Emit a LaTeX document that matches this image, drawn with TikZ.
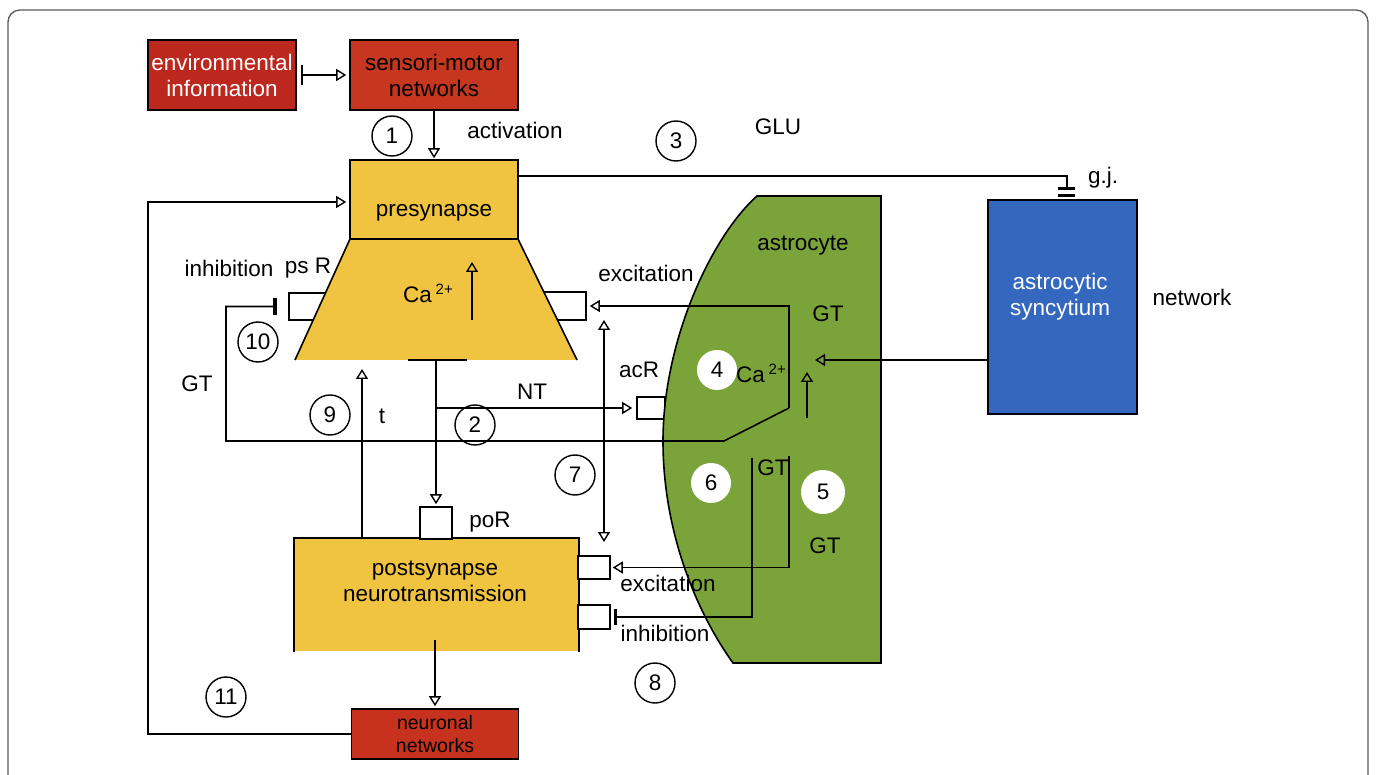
\documentclass[tikz,border=0pt]{standalone}
\usepackage{fontspec}
\setmainfont{Liberation Sans}
\usetikzlibrary{arrows.meta}
\definecolor{envred}{RGB}{188,40,30}
\definecolor{smred}{RGB}{198,54,32}
\definecolor{neured}{RGB}{198,50,30}
\definecolor{yel}{RGB}{240,195,64}
\definecolor{astro}{RGB}{122,164,58}
\definecolor{synblue}{RGB}{52,104,190}
\tikzset{
  oa/.style={-{Triangle[open,length=10pt,width=12pt,line width=1.4pt]}},
  ob/.style={{Triangle[open,length=10pt,width=12pt,line width=1.4pt]}-{Triangle[open,length=10pt,width=12pt,line width=1.4pt]}},
  inh/.style={-{Bar[width=17pt,line width=4pt]}},
  txt/.style={font=\fontsize{22.5}{26}\selectfont, inner sep=0pt},
  num/.style={circle, draw, line width=1.4pt, minimum size=40pt, inner sep=0pt, font=\fontsize{22.5}{26}\selectfont},
  wnum/.style={circle, fill=white, minimum size=40pt, inner sep=0pt, font=\fontsize{22.5}{26}\selectfont},
  rbox/.style={draw, line width=1.6pt, fill=white, inner sep=0pt},
  cbox/.style={draw, line width=1.6pt, inner sep=0pt, align=center, font=\fontsize{22.5}{26}\selectfont},
  frame/.style={draw=black!65, line width=1.3pt, rounded corners=12pt}
}
\newcommand{\caion}{Ca\,{\fontsize{15}{15}\selectfont\raisebox{8pt}{2+}}}
\begin{document}
\begin{tikzpicture}[x=1pt,y=-1pt,line width=1.6pt]
\useasboundingbox (0,0) rectangle (1376,775);
\draw[frame] (8,775) -- (8,10) -- (1368,10) -- (1368,775);

% top boxes
\node[cbox, fill=envred, text=white, minimum width=148pt, minimum height=70pt] (env) at (222,75) {environmental\\information};
\node[cbox, fill=smred, minimum width=168pt, minimum height=70pt] (smn) at (434,75) {sensori-motor\\networks};
\draw[{Bar[width=20pt,line width=2.5pt]}-{Triangle[open,length=10pt,width=12pt,line width=1.4pt]}, shorten <=4pt, shorten >=3pt] (env) -- (smn);

% receptor boxes of presynapse
\node[rbox, minimum width=41pt, minimum height=27pt] (psR) at (309.5,306.5) {};
\node[rbox, minimum width=46pt, minimum height=28pt] (exR) at (563,306) {};

% trapezoid
\coordinate (tl) at (350,239);
\coordinate (tr) at (518,239);
\coordinate (br) at (577,360);
\coordinate (bl) at (295,360);
\fill[yel] (tl) -- (tr) -- (br) -- (bl) -- cycle;
\draw (tl) -- (bl);
\draw (tr) -- (br);
\draw (408,360) -- (467,360);

% presynapse box
\node[draw, fill=yel, minimum width=168pt, minimum height=79pt, inner sep=0pt] (pre) at (434,199.5) {};
\node[txt] (preL) at (434,213) {presynapse};
\draw[oa, shorten >=1pt] (smn) -- (pre);

% Ca arrow in presynapse
\coordinate (caA) at (472,320);
\coordinate (caB) at (472,262);
\draw[oa] (caA) -- (caB);
\node[txt] (caPre) at (428,293) {\caion};

% acR box then astrocyte
\node[rbox, minimum width=28pt, minimum height=22pt] (acR) at (651,408) {};
\draw[fill=astro] (757,196) .. controls (712,236) and (663,340) .. (663,441)
  .. controls (663,530) and (695,610) .. (733,663) -- (881,663) -- (881,196) -- cycle;

% astrocytic syncytium
\node[draw, fill=synblue, minimum width=149pt, minimum height=214pt, inner sep=0pt] (syn) at (1062.5,307) {};
\node[txt, text=white, align=center] (synL) at (1060,297) {astrocytic\\syncytium};

% gap junction line
\coordinate (gjy) at (0,176);
\coordinate (gj) at (1067,176);
\coordinate (gjb) at (1067,189);
\draw (pre.east |- gjy) -- (gj) -- (gjb);
\draw[line width=3pt] (1058,189) -- (1075,189);
\draw[line width=3pt] (1058,195.5) -- (1075,195.5);

% syncytium -> astrocyte Ca
\coordinate (h360) at (0,360);
\coordinate (astIn) at (815,360);
\draw[oa] (syn.west |- h360) -- (astIn);
\coordinate (upA) at (807,418);
\coordinate (upB) at (807,372);
\draw[oa] (upA) -- (upB);

% GT path: excitation and inhibition of presynapse
\coordinate (gA) at (789,408);
\coordinate (gB) at (789,306);
\coordinate (gC) at (724,441);
\coordinate (gD) at (226,441);
\draw[oa, shorten >=3pt] (gA) -- (gB) -- (exR.east);
\draw[inh, shorten >=11pt] (gA) -- (gC) -- (gD) |- (psR.west);

% postsynapse
\node[fill=yel, minimum width=283pt, minimum height=112pt, inner sep=0pt] (post) at (436.5,595) {};
\draw (post.south west) -- (post.north west) -- (post.north east) -- (post.south east);
\node[txt, align=center] (postL) at (435,581) {postsynapse\\neurotransmission};
\node[rbox, minimum width=32pt, minimum height=32pt] (poR) at (436,523) {};
\node[rbox, minimum width=32pt, minimum height=23pt] (exc2) at (594,567.5) {};
\node[rbox, minimum width=32pt, minimum height=24pt] (inh2) at (594,617) {};

% NT
\coordinate (nt0) at (436,360);
\coordinate (nt1) at (436,408);
\draw[oa, shorten >=2pt] (nt0) -- (poR.north);
\draw[oa, shorten >=4pt] (nt1) -- (acR.west);

% t arrow
\coordinate (tA) at (362,539);
\coordinate (tB) at (362,369);
\draw[oa] (tA) -- (tB);

% double arrow 7
\coordinate (s7a) at (604,320);
\coordinate (s7b) at (604,542);
\draw[ob] (s7a) -- (s7b);

% astrocyte to postsynapse
\coordinate (lb0) at (789,456);
\coordinate (lb1) at (789,567.5);
\draw[oa, shorten >=2pt] (lb0) -- (lb1) -- (exc2.east);
\coordinate (la0) at (752,458);
\coordinate (la1) at (752,617);
\draw[-{Bar[width=16pt,line width=3.5pt]}, shorten >=3pt] (la0) -- (la1) -- (inh2.east);

% neuronal networks
\node[cbox, fill=neured, minimum width=167pt, minimum height=50pt, font=\fontsize{19.5}{23}\selectfont] (neu) at (435,734) {neuronal\\networks};
\coordinate (pdown) at (435,640);
\draw[oa, shorten >=2pt] (pdown) -- (neu.north);
\coordinate (fb) at (148,202);
\draw[oa, shorten >=3pt] (neu.west) -| (fb) -- (pre.west |- fb);

% labels
\node[txt] (lact) at (515,130) {activation};
\node[txt] (lglu) at (778,127) {GLU};
\node[txt] (lgj) at (1103,178) {g.j.};
\node[txt] (lnet) at (1192,297) {network};
\node[txt] (last) at (803,246) {astrocyte};
\node[txt] (lgt1) at (828,314) {GT};
\node[txt] (caAst) at (761,373) {\caion};
\node[txt] (lexc1) at (646,273) {excitation};
\node[txt] (linh1) at (229,268) {inhibition};
\node[txt] (lpsr) at (308,268) {ps R};
\node[txt] (lgt0) at (197,384) {GT};
\node[txt] (lt) at (382,416) {t};
\node[txt] (lnt) at (532,392) {NT};
\node[txt] (lacr) at (639,370) {acR};
\node[txt] (lpor) at (490,522) {poR};
\node[txt] (lgt2) at (773,468) {GT};
\node[txt] (lgt3) at (825,546) {GT};
\node[txt] (lexc2) at (668,583) {excitation};
\node[txt] (linh2) at (665,633) {inhibition};

% numbered circles
\node[num] (n1) at (392,136) {1};
\node[num] (n3) at (676,141) {3};
\node[num] (n10) at (258,342) {10};
\node[num] (n9) at (330,415) {9};
\node[num] (n2) at (475,425) {2};
\node[num] (n7) at (575,475) {7};
\node[num] (n8) at (655,683) {8};
\node[num] (n11) at (226,697) {11};
\node[wnum] (n4) at (717,370) {4};
\node[wnum] (n6) at (711,483) {6};
\node[wnum, minimum size=44pt] (n5) at (823,492) {5};
\end{tikzpicture}
\end{document}
